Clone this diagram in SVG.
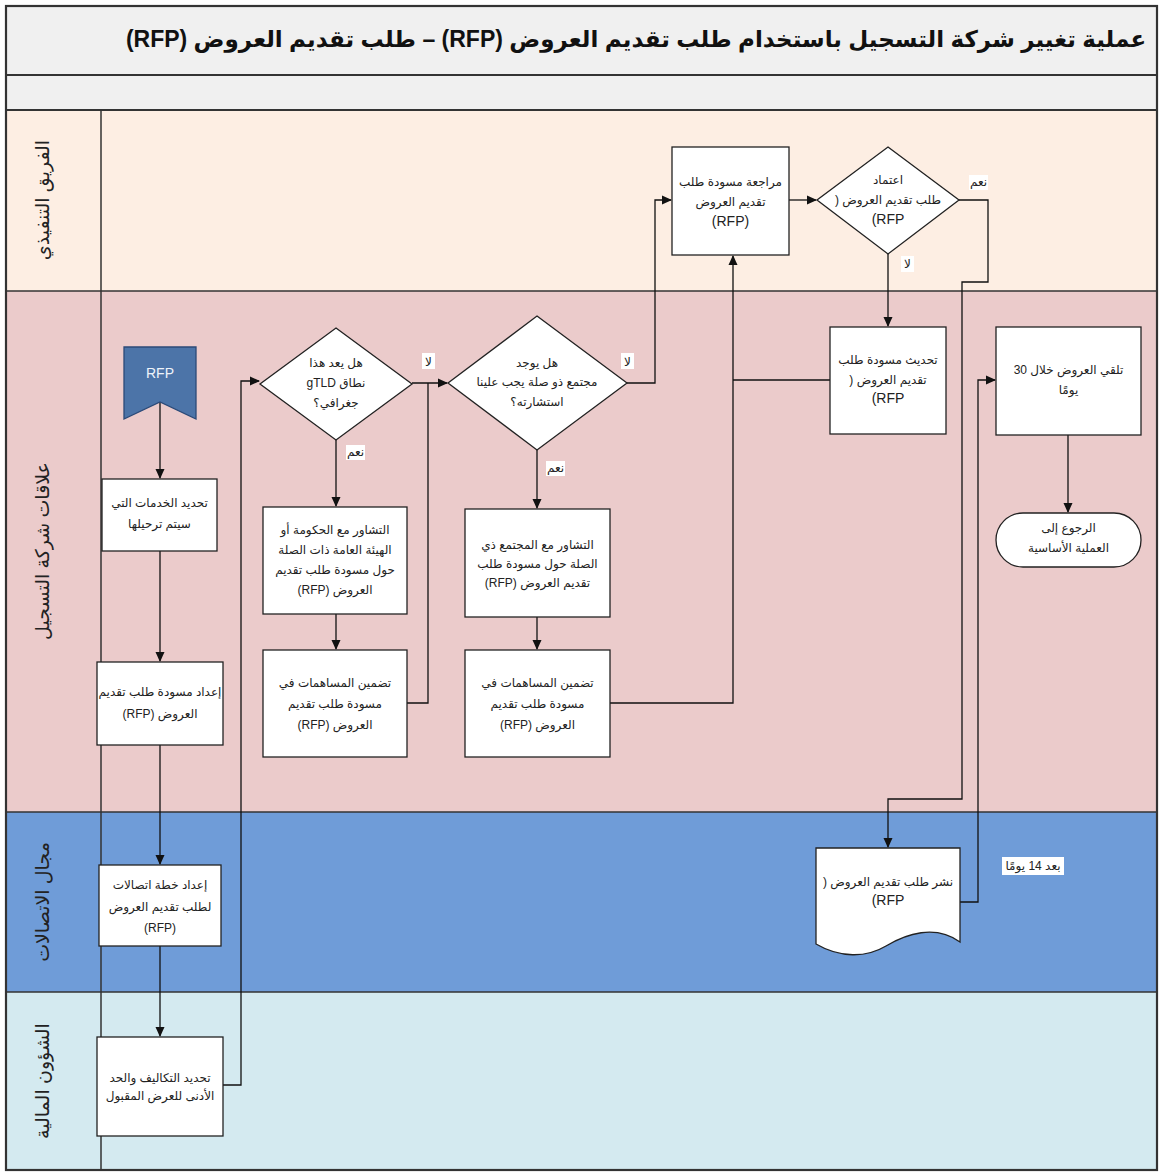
<svg xmlns="http://www.w3.org/2000/svg" width="1159" height="1173" viewBox="0 0 1159 1173">
<style>
.t{font-family:"Liberation Sans","DejaVu Sans",sans-serif;font-size:12px;fill:#222;text-anchor:middle;direction:rtl}
.big{font-size:14px}
.lane{font-family:"Liberation Sans","DejaVu Sans",sans-serif;font-size:19px;fill:#222;text-anchor:middle;direction:rtl;dominant-baseline:central}
.box{fill:#fff;stroke:#222;stroke-width:1.3}
.c{fill:none;stroke:#111;stroke-width:1.3}
.lb{fill:#fff}
.sep{stroke:#333;stroke-width:1.5}
</style>
<defs>
<marker id="a" markerWidth="10" markerHeight="10" refX="9" refY="5" orient="auto" markerUnits="userSpaceOnUse">
<path d="M0,0.5 L10,5 L0,9.5 Z" fill="#111"/>
</marker>
</defs>
<g id="lanes">
<rect x="6" y="6" width="1151" height="69" fill="#f0f0f0"/>
<rect x="6" y="75" width="1151" height="35" fill="#f0f0f0"/>
<rect x="6" y="110" width="1151" height="181" fill="#fdeee3"/>
<rect x="6" y="291" width="1151" height="521" fill="#ebcbcb"/>
<rect x="6" y="812" width="1151" height="180" fill="#6f9cd8"/>
<rect x="6" y="992" width="1151" height="178" fill="#d4eaf0"/>
<line x1="6" y1="75" x2="1157" y2="75" stroke="#333" stroke-width="2.2"/>
<line x1="6" y1="110" x2="1157" y2="110" stroke="#333" stroke-width="2.2"/>
<line class="sep" x1="6" y1="291" x2="1157" y2="291"/>
<line class="sep" x1="6" y1="812" x2="1157" y2="812"/>
<line class="sep" x1="6" y1="992" x2="1157" y2="992"/>
<line class="sep" x1="101" y1="110" x2="101" y2="1170"/>
<rect x="6" y="6" width="1151" height="1164" fill="none" stroke="#333" stroke-width="2.2"/>
<text x="636" y="47" font-family="'Liberation Sans','DejaVu Sans',sans-serif" font-size="23" font-weight="bold" fill="#111" text-anchor="middle" direction="rtl">عملية تغيير شركة التسجيل باستخدام طلب تقديم العروض (RFP) – طلب تقديم العروض (RFP)</text>
<text class="lane" transform="translate(42,200) rotate(-90)">الفريق التنفيذي</text>
<text class="lane" transform="translate(42,551) rotate(-90)">علاقات شركة التسجيل</text>
<text class="lane" transform="translate(42,902) rotate(-90)">مجال الاتصالات</text>
<text class="lane" transform="translate(42,1081) rotate(-90)">الشؤون المالية</text>
</g>
<g id="connectors">
<path class="c" d="M160,402 V478" marker-end="url(#a)"/>
<path class="c" d="M160,551 V661" marker-end="url(#a)"/>
<path class="c" d="M160,745 V864" marker-end="url(#a)"/>
<path class="c" d="M160,946 V1036" marker-end="url(#a)"/>
<path class="c" d="M223,1085 H241 V381 H259" marker-end="url(#a)"/>
<path class="c" d="M336,440 V506" marker-end="url(#a)"/>
<path class="c" d="M336,614 V649" marker-end="url(#a)"/>
<path class="c" d="M412,383 H447" marker-end="url(#a)"/>
<path class="c" d="M407,703 H428 V383"/>
<path class="c" d="M537,450 V508" marker-end="url(#a)"/>
<path class="c" d="M537,617 V649" marker-end="url(#a)"/>
<path class="c" d="M627,383 H655 V200 H671" marker-end="url(#a)"/>
<path class="c" d="M610,703 H733 V256" marker-end="url(#a)"/>
<path class="c" d="M830,380 H733"/>
<path class="c" d="M789,200 H816" marker-end="url(#a)"/>
<path class="c" d="M888,254 V326" marker-end="url(#a)"/>
<path class="c" d="M959,200 H988 V282 H962 V799 H888 V847" marker-end="url(#a)"/>
<path class="c" d="M960,902 H978 V380 H995" marker-end="url(#a)"/>
<path class="c" d="M1068,435 V512" marker-end="url(#a)"/>
<rect class="lb" x="422" y="353" width="13" height="16"/>
<text class="t" x="428.5" y="366">لا</text>
<rect class="lb" x="621" y="353" width="13" height="16"/>
<text class="t" x="627.5" y="366">لا</text>
<rect class="lb" x="346" y="445" width="19" height="15"/>
<text class="t" x="355.5" y="456">نعم</text>
<rect class="lb" x="546" y="461" width="19" height="15"/>
<text class="t" x="555.5" y="472">نعم</text>
<rect class="lb" x="969" y="175" width="19" height="15"/>
<text class="t" x="978.5" y="186">نعم</text>
<rect class="lb" x="901" y="256" width="13" height="16"/>
<text class="t" x="907.5" y="268">لا</text>
<rect class="lb" x="1002" y="857" width="62" height="18"/>
<text class="t" x="1033" y="870">بعد 14 يومًا</text>
</g>
<g id="n-rfp">
<path d="M124,347 H196 V419 L160,402 L124,419 Z" fill="#4c74a8" stroke="#2b4a78" stroke-width="1.3"/>
<text x="160" y="378" font-family="'Liberation Sans',sans-serif" font-size="14" fill="#eef3fa" text-anchor="middle">RFP</text>
</g>
<g id="n-services">
<rect class="box" x="102" y="479" width="115" height="72"/>
<text class="t" x="159.5" y="507">تحديد الخدمات التي</text>
<text class="t" x="159.5" y="528">سيتم ترحيلها</text>
</g>
<g id="n-draft">
<rect class="box" x="97" y="662" width="126" height="83"/>
<text class="t" x="160" y="696">إعداد مسودة طلب تقديم</text>
<text class="t" x="160" y="718">العروض (RFP)</text>
</g>
<g id="n-commplan">
<rect class="box" x="99" y="865" width="122" height="81"/>
<text class="t" x="160" y="889">إعداد خطة اتصالات</text>
<text class="t" x="160" y="911">لطلب تقديم العروض</text>
<text class="t" x="160" y="932">(RFP)</text>
</g>
<g id="n-costs">
<rect class="box" x="97" y="1037" width="126" height="99"/>
<text class="t" x="160" y="1082">تحديد التكاليف والحد</text>
<text class="t" x="160" y="1100">الأدنى للعرض المقبول</text>
</g>
<g id="n-geo">
<path class="box" d="M336,328 L412,384 L336,440 L260,384 Z"/>
<text class="t" x="336" y="367">هل يعد هذا</text>
<text class="t" x="336" y="387">نطاق gTLD</text>
<text class="t" x="336" y="407">جغرافي؟</text>
</g>
<g id="n-gov">
<rect class="box" x="263" y="507" width="144" height="107"/>
<text class="t" x="335" y="534">التشاور مع الحكومة أو</text>
<text class="t" x="335" y="554">الهيئة العامة ذات الصلة</text>
<text class="t" x="335" y="574">حول مسودة طلب تقديم</text>
<text class="t" x="335" y="594">العروض (RFP)</text>
</g>
<g id="n-incl1">
<rect class="box" x="263" y="650" width="144" height="107"/>
<text class="t" x="335" y="687">تضمين المساهمات في</text>
<text class="t" x="335" y="708">مسودة طلب تقديم</text>
<text class="t" x="335" y="729">العروض (RFP)</text>
</g>
<g id="n-community">
<path class="box" d="M537,316 L627,383 L537,450 L448,383 Z"/>
<text class="t" x="537" y="367">هل يوجد</text>
<text class="t" x="537" y="386">مجتمع ذو صلة يجب علينا</text>
<text class="t" x="537" y="406">استشارته؟</text>
</g>
<g id="n-consult">
<rect class="box" x="465" y="509" width="145" height="108"/>
<text class="t" x="537.5" y="549">التشاور مع المجتمع ذي</text>
<text class="t" x="537.5" y="568">الصلة حول مسودة طلب</text>
<text class="t" x="537.5" y="587">تقديم العروض (RFP)</text>
</g>
<g id="n-incl2">
<rect class="box" x="465" y="650" width="145" height="107"/>
<text class="t" x="537.5" y="687">تضمين المساهمات في</text>
<text class="t" x="537.5" y="708">مسودة طلب تقديم</text>
<text class="t" x="537.5" y="729">العروض (RFP)</text>
</g>
<g id="n-review">
<rect class="box" x="672" y="147" width="117" height="108"/>
<text class="t" x="730.5" y="186">مراجعة مسودة طلب</text>
<text class="t" x="730.5" y="206">تقديم العروض</text>
<text class="t big" x="730.5" y="226">(RFP)</text>
</g>
<g id="n-approve">
<path class="box" d="M888,147 L959,200 L888,254 L817,200 Z"/>
<text class="t" x="888" y="184">اعتماد</text>
<text class="t" x="888" y="204">طلب تقديم العروض (</text>
<text class="t big" x="888" y="224">RFP)</text>
</g>
<g id="n-update">
<rect class="box" x="830" y="327" width="116" height="107"/>
<text class="t" x="888" y="364">تحديث مسودة طلب</text>
<text class="t" x="888" y="384">تقديم العروض (</text>
<text class="t big" x="888" y="403">RFP)</text>
</g>
<g id="n-publish">
<path class="box" d="M816,848 H960 V942 C935,924 906,934 886,946 C866,958 840,958 816,944 Z"/>
<text class="t" x="888" y="886">نشر طلب تقديم العروض (</text>
<text class="t big" x="888" y="905">RFP)</text>
</g>
<g id="n-receive">
<rect class="box" x="996" y="327" width="145" height="108"/>
<text class="t" x="1068.5" y="374">تلقي العروض خلال 30</text>
<text class="t" x="1068.5" y="394">يومًا</text>
</g>
<g id="n-return">
<rect class="box" x="996" y="513" width="145" height="54" rx="27" ry="27"/>
<text class="t" x="1068.5" y="532">الرجوع إلى</text>
<text class="t" x="1068.5" y="552">العملية الأساسية</text>
</g>
</svg>
